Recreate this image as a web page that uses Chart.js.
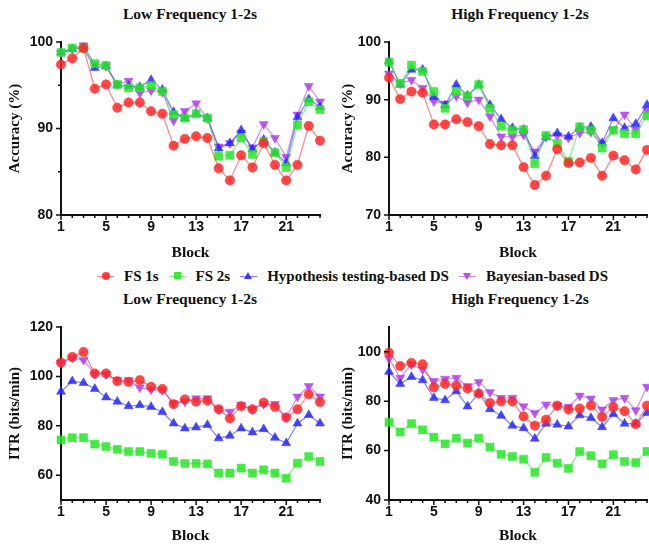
<!DOCTYPE html>
<html>
<head>
<meta charset="utf-8">
<script src="https://cdn.jsdelivr.net/npm/chart.js@4.4.1/dist/chart.umd.min.js"></script>
<style>
  html, body { margin: 0; padding: 0; background: #fff; overflow: hidden; width: 649px; height: 546px; position: relative; }
  canvas { position: absolute; }
  .title { position: absolute; width: 300px; text-align: center; line-height: 18px;
           font: bold 15.5px "Liberation Serif", "Times New Roman", serif; color: #111; }
  #legend { position: absolute; left: 97px; top: 267px; height: 18px; display: flex; align-items: center;
            font: bold 15px "Liberation Serif", "Times New Roman", serif; color: #111; white-space: nowrap; }
  .item { display: flex; align-items: center; margin-right: 10px; }
  .sw { position: relative; width: 17px; height: 10px; margin-right: 10px; }
  .sw .ln { position: absolute; left: 0; top: 5px; width: 17px; height: 1px; }
  .sw .mk { position: absolute; }
</style>
</head>
<body>
<div class="title" style="left:40px;top:5px">Low Frequency 1-2s</div>
<div class="title" style="left:370px;top:5px">High Frequency 1-2s</div>
<div class="title" style="left:40px;top:290px">Low Frequency 1-2s</div>
<div class="title" style="left:370px;top:290px">High Frequency 1-2s</div>

<div id="legend">
  <div class="item"><div class="sw"><div class="ln" style="background:rgba(255,40,40,.6)"></div>
    <div class="mk" style="left:5px;top:1px;width:8px;height:8px;border-radius:50%;background:rgba(255,40,40,.9)"></div></div>FS 1s</div>
  <div class="item"><div class="sw"><div class="ln" style="background:rgba(40,230,40,.6)"></div>
    <div class="mk" style="left:5px;top:1px;width:7px;height:7px;background:rgba(40,230,40,.9)"></div></div>FS 2s</div>
  <div class="item"><div class="sw"><div class="ln" style="background:rgba(40,40,255,.6)"></div>
    <div class="mk" style="left:4px;top:1px;width:0;height:0;border-left:4px solid transparent;border-right:4px solid transparent;border-bottom:7px solid rgba(40,40,255,.9)"></div></div>Hypothesis testing-based DS</div>
  <div class="item"><div class="sw"><div class="ln" style="background:rgba(175,60,240,.6)"></div>
    <div class="mk" style="left:4px;top:2px;width:0;height:0;border-left:4px solid transparent;border-right:4px solid transparent;border-top:7px solid rgba(175,60,240,.9)"></div></div>Bayesian-based DS</div>
</div>

<canvas id="c1" width="330" height="250" style="left:0;top:20px"></canvas>
<canvas id="c2" width="330" height="250" style="left:330px;top:20px"></canvas>
<canvas id="c3" width="330" height="246" style="left:0;top:300px"></canvas>
<canvas id="c4" width="330" height="246" style="left:330px;top:300px"></canvas>

<script>
// blocks on the x axis
const blocks = [1, 2, 3, 4, 5, 6, 7, 8, 9, 10, 11, 12, 13, 14, 15, 16, 17, 18, 19, 20, 21, 22, 23, 24];
const seriesNames = ['FS 1s', 'FS 2s', 'Hypothesis testing-based DS', 'Bayesian-based DS'];

// Accuracy (%), low frequency
const accLowFs1 = [97.4, 98.1, 99.3, 94.6, 95.1, 92.4, 93.0, 93.0, 92.0, 91.7, 88.0, 88.8, 89.1, 88.9, 85.4, 84.0, 86.9, 85.5, 88.3, 85.8, 84.0, 85.8, 90.3, 88.6];
const accLowFs2 = [98.8, 99.3, 99.3, 97.5, 97.3, 95.1, 94.7, 94.7, 95.0, 94.3, 91.6, 91.2, 91.7, 91.2, 86.8, 86.9, 88.9, 87.0, 88.5, 87.2, 85.5, 90.4, 93.1, 92.2];
const accLowHyp = [98.8, 99.2, 99.3, 97.0, 97.2, 95.0, 94.9, 94.8, 95.6, 94.5, 91.9, 91.2, 91.7, 91.2, 87.7, 88.3, 89.8, 87.6, 88.7, 87.2, 86.0, 91.3, 93.4, 92.5];
const accLowBay = [98.7, 99.2, 99.6, 97.4, 97.2, 95.1, 95.5, 94.1, 94.4, 94.2, 90.9, 92.0, 92.9, 91.2, 87.9, 88.3, 89.5, 87.8, 90.5, 88.9, 86.7, 91.6, 94.9, 93.1];

// Accuracy (%), high frequency
const accHighFs1 = [93.8, 90.1, 91.4, 91.2, 85.7, 85.7, 86.6, 86.1, 85.4, 82.3, 82.1, 82.1, 78.3, 75.2, 76.8, 81.4, 79.0, 79.1, 79.9, 76.8, 80.3, 79.5, 77.9, 81.3];
const accHighFs2 = [96.5, 92.8, 96.0, 94.9, 91.4, 88.5, 91.4, 90.6, 92.6, 88.5, 85.4, 84.7, 84.8, 78.9, 83.8, 82.4, 79.3, 85.3, 84.7, 81.6, 84.7, 84.1, 84.1, 87.2];
const accHighHyp = [96.7, 92.6, 95.2, 95.2, 90.5, 89.0, 92.6, 90.7, 92.6, 89.1, 86.6, 85.1, 84.8, 80.2, 83.5, 84.2, 83.6, 85.2, 85.3, 82.5, 86.8, 85.1, 85.8, 89.1];
const accHighBay = [94.5, 92.8, 93.4, 92.0, 89.7, 89.3, 90.6, 89.5, 90.0, 87.1, 83.6, 83.6, 83.9, 81.0, 83.5, 83.8, 83.4, 84.2, 84.4, 82.4, 84.8, 87.4, 84.8, 88.2];

// ITR (bits/min), low frequency
const itrLowFs1 = [105.6, 107.9, 109.9, 101.2, 101.2, 98.1, 97.8, 98.5, 95.8, 94.9, 88.8, 90.7, 89.8, 90.2, 86.7, 83.0, 88.0, 86.7, 89.4, 87.7, 83.4, 86.7, 92.8, 89.6];
const itrLowFs2 = [74.3, 75.2, 75.2, 72.6, 71.6, 70.5, 69.6, 69.6, 68.9, 68.5, 65.6, 64.8, 64.8, 64.6, 60.9, 60.9, 62.9, 60.9, 62.2, 60.9, 58.8, 64.9, 67.6, 65.6];
const itrLowHyp = [93.8, 98.1, 97.4, 95.0, 91.5, 89.8, 88.0, 88.4, 87.7, 85.6, 81.0, 79.0, 79.4, 80.4, 75.0, 76.0, 79.0, 77.4, 78.7, 75.2, 73.0, 81.0, 84.4, 81.0];
const itrLowBay = [105.5, 107.5, 106.6, 100.9, 100.9, 98.5, 98.5, 95.5, 94.7, 94.5, 89.1, 89.8, 91.1, 91.1, 86.7, 85.7, 88.4, 86.7, 88.8, 88.8, 83.4, 91.8, 96.1, 91.8];

// ITR (bits/min), high frequency
const itrHighFs1 = [99.6, 94.2, 95.5, 94.9, 85.6, 87.0, 86.3, 85.1, 83.1, 79.3, 79.9, 79.9, 73.8, 70.1, 72.5, 78.2, 76.6, 77.0, 78.2, 73.6, 77.6, 75.9, 70.7, 78.2];
const itrHighFs2 = [71.4, 67.5, 70.9, 68.4, 65.4, 62.7, 65.0, 63.0, 65.0, 61.4, 58.5, 57.6, 56.5, 51.2, 57.2, 54.9, 52.8, 59.6, 57.9, 54.6, 58.3, 55.6, 55.1, 59.6];
const itrHighHyp = [91.9, 87.0, 89.8, 88.5, 81.3, 80.4, 84.0, 77.9, 83.1, 76.8, 74.1, 70.1, 69.1, 64.8, 70.9, 70.5, 69.8, 74.3, 73.2, 69.5, 74.8, 70.9, 70.9, 75.2];
const itrHighBay = [97.2, 89.4, 94.9, 92.8, 88.1, 89.0, 89.4, 86.0, 87.7, 83.6, 81.3, 81.3, 77.9, 75.2, 78.6, 78.2, 77.6, 82.2, 81.0, 76.6, 80.4, 81.3, 76.3, 85.8];

const colors = ['255,40,40', '40,230,40', '40,40,255', '175,60,240'];
const styles = [
  { pointStyle: 'circle', radius: 4.7, rotation: 0 },
  { pointStyle: 'rect', radius: 5.7, rotation: 0 },
  { pointStyle: 'triangle', radius: 5.2, rotation: 0 },
  { pointStyle: 'triangle', radius: 5.2, rotation: 180 },
];

const serif = '"Liberation Serif", "Times New Roman", serif';
const sans = '"Liberation Sans", Arial, sans-serif';

// tick marks drawn by hand so the minor ones can be shorter
const tickMarks = {
  id: 'tickMarks',
  afterDraw(chart, args, opts) {
    const { ctx, chartArea, scales } = chart;
    ctx.save();
    ctx.strokeStyle = '#111';
    ctx.lineWidth = 1.5;
    ctx.beginPath();
    scales.x.ticks.forEach((t, i) => {
      const px = scales.x.getPixelForTick(i);
      const len = i % 4 === 0 ? 5 : 3;
      ctx.moveTo(px, chartArea.bottom);
      ctx.lineTo(px, chartArea.bottom + len);
    });
    scales.y.ticks.forEach(t => {
      const py = scales.y.getPixelForValue(t.value);
      ctx.moveTo(chartArea.left - 5, py);
      ctx.lineTo(chartArea.left, py);
    });
    (opts.minor || []).forEach(v => {
      const py = scales.y.getPixelForValue(v);
      ctx.moveTo(chartArea.left - 3, py);
      ctx.lineTo(chartArea.left, py);
    });
    ctx.stroke();
    ctx.restore();
  }
};

function makeChart(id, values, yTitle, yMin, yMax, yStep, minor, yWidth, titlePad, pad, xHeight, xTitlePad) {
  const datasets = values.map((vals, i) => ({
    label: seriesNames[i],
    data: vals,
    borderColor: 'rgba(' + colors[i] + ',0.55)',
    borderWidth: 1.3,
    backgroundColor: 'rgba(' + colors[i] + ',0.85)',
    pointBackgroundColor: 'rgba(' + colors[i] + ',0.85)',
    pointBorderColor: 'rgba(' + colors[i] + ',0.45)',
    pointBorderWidth: 1,
    pointStyle: styles[i].pointStyle,
    pointRadius: styles[i].radius,
    pointRotation: styles[i].rotation,
    tension: 0,
    clip: false,
  }));

  return new Chart(document.getElementById(id), {
    type: 'line',
    data: { labels: blocks, datasets },
    options: {
      responsive: false,
      animation: false,
      layout: { padding: pad },
      plugins: { legend: { display: false }, tooltip: { enabled: false }, tickMarks: { minor } },
      scales: {
        x: {
          grid: { display: false, drawTicks: false },
          border: { display: true, color: '#111', width: 2 },
          ticks: {
            autoSkip: false, maxRotation: 0, padding: 4, color: '#111',
            font: { family: sans, size: 14, weight: 'bold' },
            callback: (v, i) => (i % 4 === 0 ? blocks[i] : ''),
          },
          title: { display: true, text: 'Block', color: '#111', padding: { top: 0, bottom: xTitlePad },
                   font: { family: serif, size: 15.5, weight: 'bold' } },
          afterFit: s => { s.height = xHeight; },
        },
        y: {
          min: yMin, max: yMax,
          grid: { display: false, drawTicks: false },
          border: { display: true, color: '#111', width: 2 },
          ticks: { stepSize: yStep, padding: 8, color: '#111', font: { family: sans, size: 14, weight: 'bold' } },
          afterBuildTicks: s => { s.ticks = s.ticks.filter(t => t.value % yStep === 0 && t.value <= yMax); },
          title: { display: true, text: yTitle, color: '#111', padding: { top: titlePad, bottom: 0 },
                   font: { family: serif, size: 15, weight: 'bold' } },
          afterFit: s => { s.width = yWidth; },
        },
      },
    },
    plugins: [tickMarks],
  });
}

makeChart('c1', [accLowFs1, accLowFs2, accLowHyp, accLowBay], 'Accuracy (%)', 80, 100, 10, [85, 95], 61, 6,
  { top: 22, right: 10, left: 0, bottom: 0 }, 55, 8);
makeChart('c2', [accHighFs1, accHighFs2, accHighHyp, accHighBay], 'Accuracy (%)', 70, 100, 10, [], 59, 9,
  { top: 22, right: 13, left: 0, bottom: 0 }, 55, 8);
makeChart('c3', [itrLowFs1, itrLowFs2, itrLowHyp, itrLowBay], 'ITR (bits/min)', 50, 120, 20, [], 61, 6,
  { top: 27, right: 10, left: 0, bottom: 0 }, 46, 1);
makeChart('c4', [itrHighFs1, itrHighFs2, itrHighHyp, itrHighBay], 'ITR (bits/min)', 40, 110, 20, [], 59, 9,
  { top: 27, right: 13, left: 0, bottom: 0 }, 46, 1);
</script>
</body>
</html>
